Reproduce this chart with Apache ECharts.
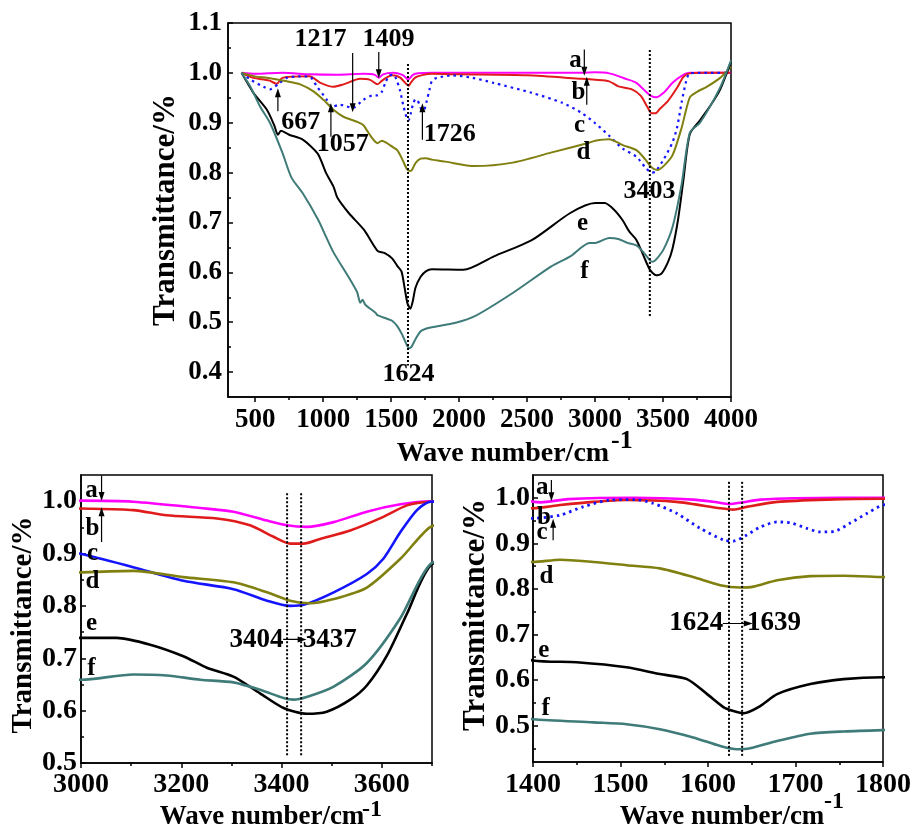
<!DOCTYPE html>
<html><head><meta charset="utf-8">
<script src="https://cdn.jsdelivr.net/npm/echarts@6/dist/echarts.min.js"></script>
<style>html,body{margin:0;padding:0;background:#fff}#c{width:912px;height:829px}</style>
</head><body><div id="c"></div>
<script>
// ---------- data: [wave number, transmittance] ----------
const specA = [[400,1.0],[500,0.998],[700,1.0],[900,0.997],[1100,0.996],[1300,0.998],[1380,0.996],[1409,0.99],[1440,0.997],[1515,1.0],[1583,0.996],[1610,0.99],[1624,0.986],[1640,0.99],[1660,0.996],[1700,0.999],[1800,1.0],[2000,1.0],[2500,1.0],[2900,1.0],[3000,1.001],[3104,0.999],[3238,0.987],[3304,0.98],[3371,0.963],[3411,0.954],[3450,0.951],[3504,0.96],[3570,0.98],[3637,0.994],[3697,1.0],[3800,1.0],[4000,1.0]];
const specB = [[400,1.0],[487,0.99],[600,0.985],[659,0.978],[700,0.99],[900,0.993],[980,0.98],[1076,0.972],[1150,0.977],[1272,0.988],[1345,0.986],[1400,0.977],[1431,0.984],[1469,0.991],[1507,0.995],[1564,0.991],[1614,0.977],[1629,0.974],[1644,0.98],[1679,0.991],[1736,0.996],[1800,0.998],[2000,0.997],[2500,0.995],[2900,0.988],[3001,0.986],[3104,0.983],[3171,0.973],[3271,0.967],[3337,0.954],[3384,0.932],[3417,0.919],[3444,0.919],[3477,0.928],[3537,0.944],[3603,0.97],[3650,0.992],[3697,0.999],[3800,1.0],[4000,1.0]];
const specC = [[400,1.0],[463,0.987],[561,0.972],[610,0.967],[680,0.98],[733,0.99],[831,0.993],[904,0.992],[953,0.973],[1027,0.946],[1060,0.932],[1125,0.936],[1217,0.93],[1296,0.946],[1370,0.955],[1400,0.955],[1431,0.962],[1457,0.98],[1488,0.995],[1518,0.996],[1537,0.988],[1564,0.966],[1591,0.933],[1618,0.907],[1629,0.905],[1644,0.918],[1660,0.936],[1679,0.947],[1694,0.945],[1713,0.933],[1728,0.925],[1744,0.926],[1763,0.945],[1782,0.966],[1800,0.984],[1836,0.99],[1950,0.995],[2100,0.99],[2253,0.98],[2534,0.96],[2759,0.94],[2900,0.92],[3001,0.899],[3104,0.874],[3204,0.848],[3304,0.832],[3371,0.81],[3417,0.8],[3444,0.802],[3504,0.826],[3570,0.861],[3603,0.89],[3637,0.941],[3670,0.983],[3697,0.999],[3800,1.0],[4000,1.0]];
const specD = [[400,1.0],[500,0.993],[586,0.99],[733,0.983],[831,0.977],[929,0.963],[1002,0.946],[1076,0.926],[1149,0.912],[1248,0.902],[1296,0.895],[1350,0.873],[1400,0.859],[1431,0.864],[1469,0.859],[1507,0.852],[1545,0.845],[1583,0.826],[1614,0.808],[1637,0.803],[1652,0.805],[1679,0.819],[1717,0.828],[1755,0.829],[1800,0.826],[1900,0.822],[2113,0.813],[2394,0.82],[2675,0.84],[2956,0.86],[3001,0.864],[3104,0.867],[3204,0.855],[3304,0.845],[3371,0.826],[3417,0.81],[3457,0.805],[3504,0.813],[3570,0.835],[3637,0.89],[3697,0.951],[3750,0.962],[3821,0.972],[3920,0.99],[4000,1.012]];
const specE = [[400,1.0],[487,0.96],[586,0.926],[640,0.895],[667,0.876],[690,0.884],[750,0.876],[850,0.866],[960,0.838],[1020,0.8],[1076,0.772],[1104,0.75],[1188,0.719],[1301,0.685],[1400,0.643],[1450,0.639],[1507,0.628],[1545,0.613],[1576,0.602],[1599,0.569],[1618,0.54],[1629,0.532],[1641,0.527],[1660,0.543],[1679,0.569],[1717,0.591],[1755,0.602],[1800,0.606],[2031,0.605],[2256,0.632],[2537,0.665],[2818,0.719],[3001,0.739],[3071,0.739],[3138,0.726],[3204,0.704],[3251,0.682],[3304,0.665],[3357,0.633],[3404,0.605],[3450,0.594],[3490,0.598],[3537,0.621],[3570,0.648],[3610,0.705],[3650,0.785],[3697,0.877],[3772,0.905],[3850,0.935],[3919,0.966],[4000,1.022]];
const specF = [[400,1.0],[463,0.973],[537,0.932],[610,0.899],[700,0.84],[767,0.79],[851,0.758],[964,0.705],[1020,0.672],[1076,0.64],[1188,0.59],[1250,0.56],[1273,0.539],[1290,0.545],[1310,0.535],[1385,0.519],[1400,0.514],[1469,0.507],[1507,0.503],[1545,0.492],[1583,0.474],[1614,0.455],[1633,0.448],[1648,0.45],[1679,0.466],[1717,0.482],[1755,0.487],[1800,0.49],[1975,0.499],[2116,0.512],[2397,0.559],[2678,0.612],[2818,0.632],[2959,0.659],[3001,0.659],[3104,0.669],[3171,0.667],[3238,0.659],[3304,0.654],[3357,0.64],[3404,0.624],[3424,0.621],[3450,0.626],[3504,0.646],[3570,0.691],[3637,0.777],[3697,0.88],[3772,0.9],[3919,0.97],[4000,1.025]];

// ---------- tick labels ----------
const topXTicks = [500,1000,1500,2000,2500,3000,3500,4000];
const topXMinor = [750,1250,1750,2250,2750,3250,3750];
const topYTicks = [0.4,0.5,0.6,0.7,0.8,0.9,1.0,1.1];
const topYMinor = [0.45,0.55,0.65,0.75,0.85,0.95,1.05];
const blXTicks = [3000,3200,3400,3600];
const blXMinor = [3100,3300,3500,3700];
const blYTicks = [0.5,0.6,0.7,0.8,0.9,1.0];
const blYMinor = [0.55,0.65,0.75,0.85,0.95];
const brXTicks = [1400,1500,1600,1700,1800];
const brXMinor = [1450,1550,1650,1750];
const brYTicks = [0.5,0.6,0.7,0.8,0.9,1.0];
const brYMinor = [0.45,0.55,0.65,0.75,0.85,0.95];

// ---------- annotations ----------
const topPeakLines = [[1624,1.018,0.413],[3403,1.046,0.51]];
const blPeakLines = [[3411,1.015,0.511],[3439,1.015,0.511]];
const brPeakLines = [[1624,1.035,0.43],[1639,1.035,0.43]];
const topNumLabels = [[985,1.067,'1217'],[1485,1.067,'1409'],[838,0.9,'667'],[1147,0.856,'1057'],[1934,0.876,'1726'],[3404,0.761,'3403'],[1632,0.394,'1624']];
const topLetters = [[2860,1.023,'a'],[2882,0.96,'b'],[2890,0.894,'c'],[2919,0.84,'d'],[2912,0.697,'e'],[2926,0.6,'f']];
const blNumLabels = [[3351,0.734,'3404'],[3497,0.734,'3437']];
const blLetters = [[3022,1.019,'a'],[3024,0.947,'b'],[3024,0.899,'c'],[3024,0.846,'d'],[3022,0.765,'e'],[3022,0.68,'f']];
const brNumLabels = [[1587,0.724,'1624'],[1676,0.724,'1639']];
const brLetters = [[1411,1.021,'a'],[1413,0.955,'b'],[1411,0.922,'c'],[1416,0.825,'d'],[1413,0.664,'e'],[1415,0.536,'f']];
const topArrows = [[[1217,1.04],[1217,0.93]],[[1409,1.042],[1409,0.998]],[[667,0.923],[667,0.96]],[[1057,0.872],[1057,0.93]],[[1730,0.866],[1730,0.93]],[[2921,1.047],[2921,1.003]],[[2939,0.936],[2939,0.983]]];
const blArrows = [[[3041,1.049],[3041,1.009]],[[3041,0.922],[3041,0.98]],[[3403,0.736],[3441,0.736]]];
const brArrows = [[[1421,1.039],[1421,1.002]],[[1423,0.907],[1423,0.944]],[[1617,0.724],[1646,0.724]]];

// ---------- styles ----------
const FONT = 'Liberation Serif';
const specs = [specA, specB, specC, specD, specE, specF];
const colors = ['#ff00ff', '#e01b1b', '#1414ff', '#808010', '#000000', '#3e7b79'];

const chart = echarts.init(document.getElementById('c'), null, {renderer: 'canvas'});

const grids = [
  {left: 228, top: 23, width: 503, height: 374},
  {left: 81, top: 475, width: 351, height: 288},
  {left: 533, top: 475, width: 350, height: 287}
].map(g => Object.assign({show: true, borderColor: '#000', borderWidth: 1.5, backgroundColor: 'transparent', containLabel: false, outerBoundsMode: 'none'}, g));

function xAxes(g, min, max, ticks, minors, fs, margin) {
  return [
    {type: 'value', gridIndex: g, min, max, position: 'bottom',
     axisLine: {show: true, onZero: false, lineStyle: {color: '#000', width: 1.5}},
     axisTick: {show: true, inside: false, length: 5, customValues: ticks, lineStyle: {color: '#000', width: 1.5}},
     axisLabel: {show: true, customValues: ticks, color: '#000', fontFamily: FONT, fontWeight: 'bold', fontSize: fs, margin, formatter: v => String(Math.round(v))},
     splitLine: {show: false}},
    {type: 'value', gridIndex: g, min, max, position: 'bottom',
     axisLine: {show: false, onZero: false},
     axisTick: {show: true, inside: false, length: 3, customValues: minors, lineStyle: {color: '#000', width: 1.5}},
     axisLabel: {show: false}, splitLine: {show: false}}
  ];
}
function yAxes(g, min, max, ticks, minors, fs, margin) {
  return [
    {type: 'value', gridIndex: g, min, max, position: 'left',
     axisLine: {show: true, onZero: false, lineStyle: {color: '#000', width: 1.5}},
     axisTick: {show: true, inside: true, length: 5, customValues: ticks, lineStyle: {color: '#000', width: 1.5}},
     axisLabel: {show: true, customValues: ticks, color: '#000', fontFamily: FONT, fontWeight: 'bold', fontSize: fs, margin, formatter: v => v.toFixed(1)},
     splitLine: {show: false}},
    {type: 'value', gridIndex: g, min, max, position: 'left',
     axisLine: {show: false, onZero: false},
     axisTick: {show: true, inside: true, length: 3, customValues: minors, lineStyle: {color: '#000', width: 1.5}},
     axisLabel: {show: false}, splitLine: {show: false}}
  ];
}

const xAxis = [].concat(
  xAxes(0, 300, 4000, topXTicks, topXMinor, 27, 10),
  xAxes(1, 3000, 3700, blXTicks, blXMinor, 28, 8),
  xAxes(2, 1400, 1800, brXTicks, brXMinor, 28, 9)
);
const yAxis = [].concat(
  yAxes(0, 0.35, 1.1, topYTicks, topYMinor, 27, 6),
  yAxes(1, 0.5, 1.05, blYTicks, blYMinor, 28, 4),
  yAxes(2, 0.42, 1.05, brYTicks, brYMinor, 28, 3)
);

const series = [];
const lineWidths = [2, 2.6, 2.6];
for (let g = 0; g < 3; g++) {
  specs.forEach((d, i) => {
    let type = 'solid', w = lineWidths[g];
    if (i === 2 && g !== 1) { type = [2.5, 4]; w = g === 0 ? 2.2 : 2.8; }
    series.push({
      type: 'line', name: 'abcdef'[i], xAxisIndex: 2 * g, yAxisIndex: 2 * g, data: d,
      showSymbol: false, symbol: 'none', smooth: 0.25, clip: true, silent: true,
      lineStyle: {color: colors[i], width: w, type}, z: 2
    });
  });
}

function annot(g, peaks, nums, letters, arrows, numFs, letFs) {
  peaks.forEach(p => {
    series.push({
      type: 'line', xAxisIndex: 2 * g, yAxisIndex: 2 * g, data: [[p[0], p[1]], [p[0], p[2]]],
      showSymbol: false, symbol: 'none', silent: true, z: 3,
      lineStyle: {color: '#000', width: 2, type: [2, 2]}
    });
  });
  arrows.forEach(a => {
    const [p0, p1] = a;
    let rot;
    if (p0[0] === p1[0]) rot = p1[1] > p0[1] ? 0 : 180;
    else rot = p1[0] > p0[0] ? -90 : 90;
    series.push({
      type: 'line', xAxisIndex: 2 * g, yAxisIndex: 2 * g,
      data: [{value: p0, symbol: 'none'}, {value: p1, symbol: 'triangle', symbolSize: [6, 9], symbolRotate: rot}],
      showSymbol: true, silent: true, z: 4, symbolKeepAspect: true,
      itemStyle: {color: '#000'},
      lineStyle: {color: '#000', width: 1.2}
    });
  });
  [[nums, numFs], [letters, letFs]].forEach(([arr, fs]) => {
    series.push({
      type: 'scatter', xAxisIndex: 2 * g, yAxisIndex: 2 * g, data: arr, symbolSize: 1,
      itemStyle: {color: '#ffffff', opacity: 0}, silent: true, z: 5,
      label: {show: true, position: [0, 0], align: 'center', verticalAlign: 'middle',
              formatter: p => p.data[2], color: '#000000', opacity: 1, textBorderWidth: 0,
              fontFamily: FONT, fontWeight: 'bold', fontSize: fs}
    });
  });
}
annot(0, topPeakLines, topNumLabels, topLetters, topArrows, 26, 25);
annot(1, blPeakLines, blNumLabels, blLetters, blArrows, 27, 25);
annot(2, brPeakLines, brNumLabels, brLetters, brArrows, 27, 25);

function txt(x, y, text, fs, rot, align) {
  return {type: 'text', x, y, rotation: rot || 0, silent: true,
    style: {text, fill: '#000', font: 'bold ' + fs + 'px "' + FONT + '"', textAlign: align || 'center', textVerticalAlign: 'middle'}};
}
const graphic = [
  txt(166, 210, 'Transmittance/%', 31, Math.PI / 2),
  txt(24, 625, 'Transmittance/%', 29, Math.PI / 2),
  txt(476, 615, 'Transmittance/%', 31, Math.PI / 2),
  txt(503, 454, 'Wave number/cm', 28),
  txt(611, 441, '-1', 26, 0, 'left'),
  txt(262, 817, 'Wave number/cm', 27),
  txt(362, 810, '-1', 24, 0, 'left'),
  txt(722, 817, 'Wave number/cm', 27),
  txt(824, 802, '-1', 24, 0, 'left')
];

chart.setOption({
  animation: false,
  backgroundColor: '#fff',
  grid: grids,
  xAxis, yAxis, series, graphic
});
</script></body></html>
